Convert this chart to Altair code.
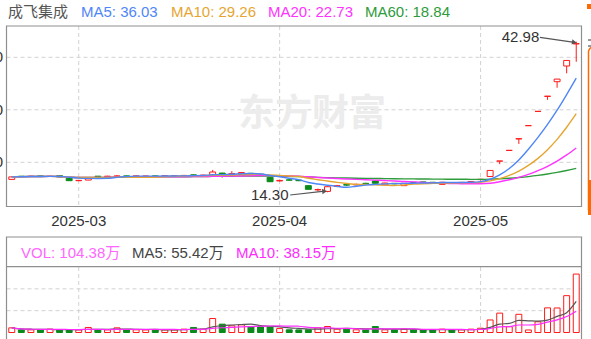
import altair as alt
import pandas as pd

# ---- daily bars, 成飞集成 ----
dates = [
    "2025-02-20", "2025-02-21", "2025-02-24", "2025-02-25", "2025-02-26", "2025-02-27", "2025-02-28",
    "2025-03-03", "2025-03-04", "2025-03-05", "2025-03-06", "2025-03-07", "2025-03-10", "2025-03-11",
    "2025-03-12", "2025-03-13", "2025-03-14", "2025-03-17", "2025-03-18", "2025-03-19", "2025-03-20",
    "2025-03-21", "2025-03-24", "2025-03-25", "2025-03-26", "2025-03-27", "2025-03-28", "2025-03-31",
    "2025-04-01", "2025-04-02", "2025-04-03", "2025-04-07", "2025-04-08", "2025-04-09", "2025-04-10",
    "2025-04-11", "2025-04-14", "2025-04-15", "2025-04-16", "2025-04-17", "2025-04-18", "2025-04-21",
    "2025-04-22", "2025-04-23", "2025-04-24", "2025-04-25", "2025-04-28", "2025-04-29", "2025-04-30",
    "2025-05-06", "2025-05-07", "2025-05-08", "2025-05-09", "2025-05-12", "2025-05-13", "2025-05-14",
    "2025-05-15", "2025-05-16", "2025-05-19", "2025-05-20",
]
opens = [
    16.75, 17.35, 17.30, 17.40, 17.30, 17.45, 16.95, 16.50, 16.62, 17.35,
    17.30, 17.33, 17.40, 17.35, 17.35, 17.40, 17.37, 17.43, 17.45, 17.60,
    17.50, 17.60, 17.95, 17.62, 17.70, 17.90, 17.75, 17.14, 16.45, 16.65,
    16.60, 15.55, 14.75, 14.45, 15.40, 15.75, 15.70, 16.00, 16.45, 15.70,
    16.00, 15.55, 16.20, 16.25, 16.20, 15.80, 16.15, 16.10, 16.25, 16.70,
    17.30, 20.22, 22.27, 24.45, 26.98, 29.70, 32.55, 35.35, 38.34, 42.55,
]
highs = [
    17.27, 17.40, 17.45, 17.45, 17.42, 17.50, 17.00, 16.65, 17.12, 17.40,
    17.43, 17.57, 17.45, 17.47, 17.45, 17.45, 17.50, 17.53, 17.60, 17.67,
    17.65, 18.55, 18.00, 18.30, 18.10, 17.95, 17.80, 17.20, 16.70, 16.80,
    16.65, 15.60, 15.00, 15.40, 15.70, 15.85, 15.95, 16.10, 16.55, 16.10,
    16.05, 16.05, 16.25, 16.30, 16.25, 16.25, 16.20, 16.25, 16.40, 16.85,
    18.45, 20.25, 22.27, 24.50, 26.98, 29.70, 32.60, 35.85, 39.40, 42.98,
]
lows = [
    16.70, 17.25, 17.25, 17.30, 17.25, 17.15, 16.45, 16.40, 16.58, 17.23,
    17.25, 17.27, 17.30, 17.30, 17.30, 17.27, 17.33, 17.35, 17.40, 17.45,
    17.45, 17.55, 17.10, 17.55, 17.60, 17.70, 17.45, 16.25, 16.35, 16.50,
    16.40, 14.85, 14.45, 14.30, 15.25, 15.50, 15.60, 15.85, 15.95, 15.60,
    15.80, 15.50, 16.05, 16.10, 16.05, 15.75, 16.05, 16.05, 16.20, 16.55,
    17.20, 19.65, 22.27, 23.50, 26.98, 29.70, 31.90, 34.20, 36.95, 39.15,
]
closes = [
    17.22, 17.30, 17.35, 17.35, 17.35, 17.20, 16.50, 16.55, 17.08, 17.30,
    17.35, 17.40, 17.35, 17.40, 17.37, 17.35, 17.43, 17.45, 17.50, 17.55,
    17.55, 18.15, 17.55, 17.85, 18.05, 17.80, 17.55, 16.30, 16.55, 16.60,
    16.50, 14.85, 14.80, 15.35, 15.55, 15.65, 15.80, 15.95, 16.00, 16.05,
    15.90, 16.00, 16.15, 16.20, 16.15, 16.20, 16.10, 16.18, 16.35, 16.77,
    18.45, 20.25, 22.27, 24.50, 26.98, 29.70, 32.60, 35.85, 39.40, 42.60,
]
# volume in 万手
volumes = [
    8.3, 4.6, 4.8, 4.5, 6.0, 4.7, 4.9, 4.6, 9.0, 4.8,
    4.7, 8.3, 4.6, 4.8, 4.5, 4.9, 4.7, 4.6, 6.0, 9.0,
    6.0, 25.0, 14.9, 11.9, 13.7, 10.0, 10.2, 9.8, 7.0, 4.8,
    4.6, 4.9, 8.3, 10.7, 6.0, 6.1, 4.8, 4.7, 10.7, 4.8,
    4.6, 6.0, 4.7, 4.9, 4.6, 6.0, 4.8, 4.7, 6.0, 7.7,
    22.4, 34.6, 10.4, 32.5, 4.5, 19.12, 44.0, 43.8, 65.8, 104.38,
]
price_ticks = [20, 30, 40]

RED = "#ff1a1a"
GREEN = "#0a8a1a"
C_MA5 = "#4f86f7"
C_MA10 = "#e6a532"
C_MA20 = "#ff33ff"
C_MA60 = "#2e9b3c"
FONT = "Arial, 'Liberation Sans', 'Noto Sans CJK SC', sans-serif"

df = pd.DataFrame({"date": dates, "open": opens, "high": highs, "low": lows,
                   "close": closes, "vol": volumes})
df["i"] = range(len(df))
df["dir"] = ["up" if c >= o else "down" for o, c in zip(df.open, df.close)]
df["xl"] = df.i - 0.31
df["xr"] = df.i + 0.31
df["vzero"] = 0.0
for n in (5, 10, 20, 60):
    df[f"ma{n}"] = df.close.rolling(n, min_periods=1).mean()
for n in (5, 10):
    df[f"vma{n}"] = df.vol.rolling(n, min_periods=1).mean()

# first trading day of each month -> x tick
month_ticks = pd.DataFrame([
    {"i": k, "label": d[:7]} for k, d in enumerate(dates)
    if k > 0 and d[:7] != dates[k - 1][:7]
])

# ---- scales (pixel ranges inside a 591x339 canvas) ----
XS = alt.Scale(domain=[-0.55, 59.55], range=[6.5, 581.5], nice=False, zero=False)
PS = alt.Scale(domain=[20, 40], range=[162.3, 57.3], nice=False, zero=False)
VS = alt.Scale(domain=[0, 117], range=[332.5, 267], nice=False, zero=False)
DIR_STROKE = alt.Scale(domain=["up", "down"], range=[RED, GREEN])
DIR_FILL = alt.Scale(domain=["up", "down"], range=["#ffffff", GREEN])


def X(f):
    return alt.X(f"{f}:Q", scale=XS, axis=None)


def PY(f):
    return alt.Y(f"{f}:Q", scale=PS, axis=None)


def VY(f):
    return alt.Y(f"{f}:Q", scale=VS, axis=None)


one = pd.DataFrame({"k": [0]})
base = alt.Chart(df)
layers = []

# ---- grid ----
grid = dict(color="#d2d2d2", strokeDash=[4, 3], strokeWidth=1)
layers.append(alt.Chart(pd.DataFrame({"p": price_ticks})).mark_rule(**grid).encode(
    y=PY("p"), x=alt.value(6.5), x2=alt.value(581.5)))
layers.append(alt.Chart(month_ticks).mark_rule(**grid).encode(
    x=X("i"), y=alt.value(26), y2=alt.value(206.5)))
layers.append(alt.Chart(month_ticks).mark_rule(**grid).encode(
    x=X("i"), y=alt.value(267), y2=alt.value(333)))
layers.append(alt.Chart(pd.DataFrame({"v": [39, 78]})).mark_rule(**grid).encode(
    y=VY("v"), x=alt.value(6.5), x2=alt.value(581.5)))

# ---- watermark ----
layers.append(alt.Chart(one).mark_text(
    text="东方财富", font="'Noto Sans CJK SC'", fontSize=37, fontWeight="bold",
    color="#ececec", align="left", baseline="middle").encode(
    x=alt.value(238), y=alt.value(115)))

# ---- price labels (left, clipped by the canvas edge) ----
layers.append(alt.Chart(pd.DataFrame({"p": price_ticks})).mark_text(
    align="right", baseline="middle", fontSize=15, font=FONT, color="#333").encode(
    y=PY("p"), x=alt.value(3), text="p:Q"))

# ---- x axis labels ----
layers.append(alt.Chart(month_ticks).mark_text(
    align="center", baseline="alphabetic", fontSize=15, font=FONT, color="#333").encode(
    x=X("i"), y=alt.value(225.5), text="label:N"))

# ---- candles ----
layers.append(base.mark_rule(strokeWidth=1).encode(
    x=X("i"), y=PY("low"), y2="high:Q",
    stroke=alt.Stroke("dir:N", scale=DIR_STROKE, legend=None)))
layers.append(base.mark_rect(strokeWidth=1).encode(
    x=X("xl"), x2="xr:Q", y=PY("open"), y2="close:Q",
    fill=alt.Fill("dir:N", scale=DIR_FILL, legend=None),
    stroke=alt.Stroke("dir:N", scale=DIR_STROKE, legend=None)))

# ---- moving averages ----
for col, c in (("ma60", C_MA60), ("ma20", C_MA20), ("ma10", C_MA10), ("ma5", C_MA5)):
    layers.append(base.mark_line(color=c, strokeWidth=1.4, interpolate="monotone").encode(
        x=X("i"), y=PY(col)))

# ---- max / min annotations ----
imax = int(df.high.idxmax())
imin = int(df.low.idxmin())
hi = float(df.high[imax])
lo = float(df.low[imin])
ann = pd.DataFrame([
    {"i": imax, "p": hi, "t": f"{hi:.2f}", "xa": imax - 3.8, "ya": hi + 0.8,
     "xb": imax - 0.2, "yb": hi - 0.12, "ang": 9},
    {"i": imin, "p": lo, "t": f"{lo:.2f}", "xa": imin - 3.9, "ya": lo - 0.53,
     "xb": imin - 0.3, "yb": lo + 0.2, "ang": 354},
])
layers.append(alt.Chart(ann).mark_rule(color="#555", strokeWidth=1.2).encode(
    x=X("xa"), x2="xb:Q", y=PY("ya"), y2="yb:Q"))
layers.append(alt.Chart(ann).mark_point(shape="triangle-right", filled=True, size=30,
                                        color="#555", opacity=1).encode(
    x=X("xb"), y=PY("yb"), angle=alt.Angle("ang:Q", scale=None)))
layers.append(alt.Chart(ann.iloc[[0]]).mark_text(
    align="right", baseline="alphabetic", fontSize=15, font=FONT, color="#333",
    dx=-37, dy=0).encode(x=X("i"), y=PY("p"), text="t:N"))
layers.append(alt.Chart(ann.iloc[[1]]).mark_text(
    align="right", baseline="alphabetic", fontSize=15, font=FONT, color="#333",
    dx=-39, dy=8).encode(x=X("i"), y=PY("p"), text="t:N"))

# ---- volume bars + averages ----
layers.append(base.mark_rect(strokeWidth=1).encode(
    x=X("xl"), x2="xr:Q", y=VY("vzero"), y2="vol:Q",
    fill=alt.Fill("dir:N", scale=DIR_FILL, legend=None),
    stroke=alt.Stroke("dir:N", scale=DIR_STROKE, legend=None)))
layers.append(base.mark_line(color="#555555", strokeWidth=1.2, interpolate="monotone").encode(
    x=X("i"), y=VY("vma5")))
layers.append(base.mark_line(color="#ff2bff", strokeWidth=1.2, interpolate="monotone").encode(
    x=X("i"), y=VY("vma10")))

# ---- panel frames ----
frame = dict(filled=False, stroke="#8f8f8f", strokeWidth=1.2)
layers.append(alt.Chart(one).mark_rect(**frame).encode(
    x=alt.value(6.5), x2=alt.value(581.5), y=alt.value(26), y2=alt.value(206.5)))
layers.append(alt.Chart(one).mark_rect(**frame).encode(
    x=alt.value(6.5), x2=alt.value(581.5), y=alt.value(237), y2=alt.value(350)))
layers.append(alt.Chart(one).mark_rule(color="#8f8f8f", strokeWidth=1.2).encode(
    x=alt.value(6.5), x2=alt.value(581.5), y=alt.value(266.7)))

# ---- legend rows ----
last = df.iloc[-1]
top_items = [
    ("成飞集成", 8, "#555555"),
    (f"MA5: {last.ma5:.2f}", 81, C_MA5),
    (f"MA10: {last.ma10:.2f}", 171, C_MA10),
    (f"MA20: {last.ma20:.2f}", 268, C_MA20),
    (f"MA60: {last.ma60:.2f}", 365, C_MA60),
]
for t, x, c in top_items:
    layers.append(alt.Chart(one).mark_text(
        text=t, align="left", baseline="alphabetic", fontSize=15, font=FONT, color=c).encode(
        x=alt.value(x), y=alt.value(16.5)))
vol_items = [
    (f"VOL: {last.vol:.2f}万", 21, "#ff66ff"),
    (f"MA5: {last.vma5:.2f}万", 132, "#444444"),
    (f"MA10: {last.vma10:.2f}万", 236, "#ff2bff"),
]
for t, x, c in vol_items:
    layers.append(alt.Chart(one).mark_text(
        text=t, align="left", baseline="alphabetic", fontSize=15, font=FONT, color=c).encode(
        x=alt.value(x), y=alt.value(258)))

# ---- side tab at the right edge ----
layers.append(alt.Chart(one).mark_rect(filled=False, stroke="#ff6a00", strokeWidth=1.5,
                                       cornerRadius=5).encode(
    x=alt.value(588.5), x2=alt.value(610), y=alt.value(47), y2=alt.value(215)))
layers.append(alt.Chart(one).mark_rect(fill="#ff6a00").encode(
    x=alt.value(588), x2=alt.value(610), y=alt.value(180), y2=alt.value(215)))
layers.append(alt.Chart(one).mark_rect(fill="#ff6a00").encode(
    x=alt.value(587), x2=alt.value(591), y=alt.value(4), y2=alt.value(9)))
for yy in (40, 46):
    layers.append(alt.Chart(one).mark_rule(color="#333", strokeWidth=1).encode(
        x=alt.value(588), x2=alt.value(591), y=alt.value(yy)))

chart = alt.layer(*layers).resolve_scale(y="independent").properties(
    width=591, height=339, autosize="none", padding=0
).configure_view(strokeWidth=0)

chart.save("out.html", embed_options={"renderer": "svg", "actions": False})
